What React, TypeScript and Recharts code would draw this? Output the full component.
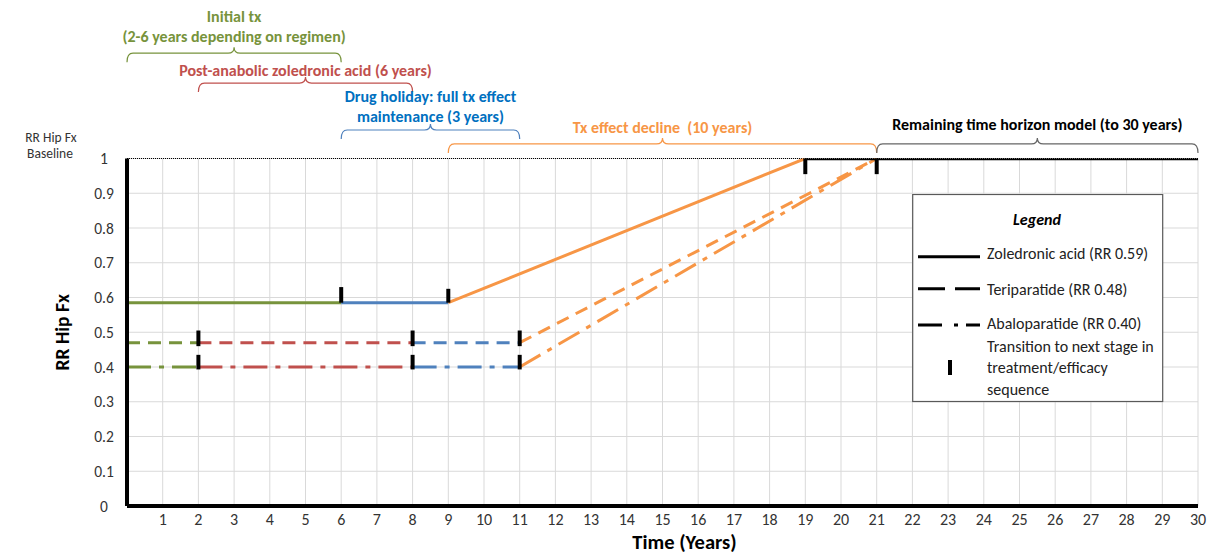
import React from 'react';
import { LineChart, Line, XAxis, YAxis, CartesianGrid, ReferenceLine, Legend } from 'recharts';

// ---------- data ----------
const xTicks = [1, 2, 3, 4, 5, 6, 7, 8, 9, 10, 11, 12, 13, 14, 15, 16, 17, 18, 19, 20, 21, 22, 23, 24, 25, 26, 27, 28, 29, 30];
const yTicks = [0, 0.1, 0.2, 0.3, 0.4, 0.5, 0.6, 0.7, 0.8, 0.9, 1];

// Zoledronic acid (RR 0.59)
const zolInitial = [{ x: 0, y: 0.585 }, { x: 6, y: 0.585 }];
const zolHoliday = [{ x: 6, y: 0.585 }, { x: 9, y: 0.585 }];
const zolDecline = [{ x: 9, y: 0.585 }, { x: 19, y: 1 }];
const remainingHorizon = [{ x: 19, y: 1 }, { x: 30, y: 1 }];

// Teriparatide (RR 0.48)
const teriInitial = [{ x: 0, y: 0.47 }, { x: 2, y: 0.47 }];
const teriPostAnabolic = [{ x: 2, y: 0.47 }, { x: 8, y: 0.47 }];
const teriHoliday = [{ x: 8, y: 0.47 }, { x: 11, y: 0.47 }];
const teriDecline = [{ x: 11, y: 0.47 }, { x: 21, y: 1 }];

// Abaloparatide (RR 0.40)
const abaloInitial = [{ x: 0, y: 0.4 }, { x: 2, y: 0.4 }];
const abaloPostAnabolic = [{ x: 2, y: 0.4 }, { x: 8, y: 0.4 }];
const abaloHoliday = [{ x: 8, y: 0.4 }, { x: 11, y: 0.4 }];
const abaloDecline = [{ x: 11, y: 0.4 }, { x: 21, y: 1 }];

// transition markers (year, from RR, to RR)
const transitions = [
  { x: 2, from: 0.46, to: 0.505 },
  { x: 2, from: 0.393, to: 0.435 },
  { x: 6, from: 0.585, to: 0.63 },
  { x: 8, from: 0.46, to: 0.505 },
  { x: 8, from: 0.393, to: 0.435 },
  { x: 9, from: 0.585, to: 0.625 },
  { x: 11, from: 0.46, to: 0.505 },
  { x: 11, from: 0.393, to: 0.435 },
  { x: 19, from: 0.955, to: 1 },
  { x: 21, from: 0.955, to: 1 },
];

// phase annotations (years spanned + text)
const phaseInitial = { from: 0, to: 6, lines: ['Initial tx', '(2-6 years depending on regimen)'] };
const phasePostAnabolic = { from: 2, to: 8, lines: ['Post-anabolic zoledronic acid (6 years)'] };
const phaseHoliday = { from: 6, to: 11, lines: ['Drug holiday: full tx effect', 'maintenance (3 years)'] };
const phaseDecline = { from: 9, to: 21, lines: ['Tx effect decline  (10 years)'] };
const phaseRemaining = { from: 21, to: 30, lines: ['Remaining time horizon model (to 30 years)'] };

const legendLabels = ['Zoledronic acid (RR 0.59)', 'Teriparatide (RR 0.48)', 'Abaloparatide (RR 0.40)'];
const legendTransition = ['Transition to next stage in', 'treatment/efficacy', 'sequence'];

// ---------- styles ----------
const FONT = "Carlito, Lato, 'Open Sans', sans-serif";
const GREEN = '#77933C';
const RED = '#C0504D';
const BLUE = '#4F81BD';
const ORANGE = '#F79646';
const DASH = '13 8';
const DASHDOT = '24 8 5 8';

const seriesStyles = [
  { data: zolInitial, color: GREEN, dash: undefined, w: 3 },
  { data: zolHoliday, color: BLUE, dash: undefined, w: 3 },
  { data: zolDecline, color: ORANGE, dash: undefined, w: 3 },
  { data: teriInitial, color: GREEN, dash: DASH, w: 3 },
  { data: teriPostAnabolic, color: RED, dash: DASH, w: 3 },
  { data: teriHoliday, color: BLUE, dash: DASH, w: 3 },
  { data: teriDecline, color: ORANGE, dash: DASH, w: 3 },
  { data: abaloInitial, color: GREEN, dash: DASHDOT, w: 3 },
  { data: abaloPostAnabolic, color: RED, dash: DASHDOT, w: 3 },
  { data: abaloHoliday, color: BLUE, dash: DASHDOT, w: 3 },
  { data: abaloDecline, color: ORANGE, dash: DASHDOT, w: 3 },
  { data: remainingHorizon, color: '#000', dash: undefined, w: 3.5 },
];

// brace layout: level (in RR units above the plot), text colour, brace colour, gap to text baseline
const braceLayouts = [
  { phase: phaseInitial, level: 1.303, text: GREEN, stroke: GREEN, gap: 11.5 },
  { phase: phasePostAnabolic, level: 1.217, text: RED, stroke: RED, gap: 7 },
  { phase: phaseHoliday, level: 1.082, text: '#0070C0', stroke: BLUE, gap: 8.5 },
  { phase: phaseDecline, level: 1.042, text: ORANGE, stroke: ORANGE, gap: 10.5 },
  { phase: phaseRemaining, level: 1.042, text: '#000', stroke: '#666', gap: 13.5 },
];

const makeBrace = (lines: string[], textColor: string, stroke: string, gap: number) => (props: any) => {
  const xa = Math.min(props.x1, props.x2);
  const xb = Math.max(props.x1, props.x2);
  const y = props.y1;
  const mid = (xa + xb) / 2;
  const d = `M${xa},${y + 9} Q${xa},${y} ${xa + 6},${y} L${mid - 6},${y} Q${mid},${y} ${mid},${y - 6} Q${mid},${y} ${mid + 6},${y} L${xb - 6},${y} Q${xb},${y} ${xb},${y + 9}`;
  return (
    <g>
      <path d={d} fill="none" stroke={stroke} strokeWidth={1.2} />
      {lines.map((t, i) => (
        <text
          key={i}
          x={mid}
          y={y - gap - (lines.length - 1 - i) * 19.5}
          textAnchor="middle"
          fill={textColor}
          fontWeight="bold"
          fontSize={16}
          fontFamily={FONT}
          style={{ whiteSpace: 'pre' }}
        >
          {t}
        </text>
      ))}
    </g>
  );
};

const YTick = (props: any) => {
  const { x, y, payload } = props;
  return (
    <text x={x - 15} y={y} dy={5.5} textAnchor="middle" fill="#333" fontSize={15.5} fontFamily={FONT}>
      {String(payload.value)}
    </text>
  );
};

const XTitle = (props: any) => {
  const vb = props.viewBox;
  return (
    <text x={vb.x + vb.width / 2 + 22} y={vb.y + 42.5} textAnchor="middle" fontWeight="bold" fontSize={20.5} fontFamily={FONT} fill="#000">
      Time (Years)
    </text>
  );
};

const BaselineLabel = (props: any) => {
  const vb = props.viewBox;
  return (
    <g fontFamily={FONT} fontSize={13.5} fill="#333">
      <text x={vb.x - 76} y={vb.y - 17} textAnchor="middle">RR Hip Fx</text>
      <text x={vb.x - 77} y={vb.y - 1} textAnchor="middle">Baseline</text>
    </g>
  );
};

const LegendBox = () => {
  const rows = [
    { y: 62.7, ty: 64.8, dash: undefined },
    { y: 94.7, ty: 100.5, dash: '27 10' },
    { y: 131, ty: 134.5, dash: '24 12 4 8' },
  ];
  return (
    <svg width={252} height={210} style={{ display: 'block' }}>
      <rect x={0.7} y={0.5} width={250} height={207} fill="#fff" stroke="#595959" strokeWidth={1.2} />
      <text x={125} y={31} textAnchor="middle" fontWeight="bold" fontStyle="italic" fontSize={16} fontFamily={FONT} fill="#000">
        Legend
      </text>
      {rows.map((r, i) => (
        <g key={i}>
          <line x1={6} x2={68} y1={r.y} y2={r.y} stroke="#000" strokeWidth={3} strokeDasharray={r.dash} />
          <text x={75} y={r.ty} fontSize={16} fontFamily={FONT} fill="#222">
            {legendLabels[i]}
          </text>
        </g>
      ))}
      <line x1={38} x2={38} y1={166} y2={181} stroke="#000" strokeWidth={4} />
      {legendTransition.map((t, i) => (
        <text key={i} x={75} y={157.5 + i * 21.8} fontSize={16} fontFamily={FONT} fill="#222">
          {t}
        </text>
      ))}
    </svg>
  );
};

export default function App() {
  return (
    <div style={{ position: 'absolute', left: 0, top: 0, width: 1212, height: 554, background: '#fff' }}>
      <LineChart width={1212} height={554} margin={{ top: 158.5, right: 14, bottom: 0, left: 0 }}>
        <CartesianGrid stroke="#d9d9d9" strokeWidth={1} />
        <XAxis
          dataKey="x"
          type="number"
          domain={[0, 30]}
          ticks={xTicks}
          interval={0}
          allowDataOverflow
          tickLine={false}
          axisLine={{ stroke: '#000', strokeWidth: 4 }}
          tick={{ fill: '#333', fontSize: 16, fontFamily: FONT }}
          height={48}
          label={<XTitle />}
        />
        <YAxis
          type="number"
          domain={[0, 1]}
          ticks={yTicks}
          interval={0}
          allowDataOverflow
          tickLine={false}
          axisLine={{ stroke: '#000', strokeWidth: 4 }}
          tick={<YTick />}
          width={127}
          label={{
            value: 'RR Hip Fx',
            angle: -90,
            position: 'insideLeft',
            offset: 62,
            style: { textAnchor: 'middle', fontWeight: 'bold', fontSize: 19.5, fontFamily: FONT, fill: '#000' },
          }}
        />
        <ReferenceLine y={1} stroke="#000" strokeWidth={1} strokeDasharray="1 1" label={<BaselineLabel />} />
        {seriesStyles.map((s, i) => (
          <Line
            key={i}
            data={s.data}
            dataKey="y"
            type="linear"
            stroke={s.color}
            strokeWidth={s.w}
            strokeDasharray={s.dash}
            dot={false}
            activeDot={false}
            legendType="none"
            isAnimationActive={false}
          />
        ))}
        {transitions.map((t, i) => (
          <ReferenceLine
            key={'t' + i}
            segment={[{ x: t.x, y: t.from }, { x: t.x, y: t.to }]}
            stroke="#000"
            strokeWidth={4}
            ifOverflow="visible"
          />
        ))}
        {braceLayouts.map((b, i) => (
          <ReferenceLine
            key={'b' + i}
            segment={[{ x: b.phase.from, y: b.level }, { x: b.phase.to, y: b.level }]}
            ifOverflow="visible"
            shape={makeBrace(b.phase.lines, b.text, b.stroke, b.gap)}
          />
        ))}
        <Legend
          content={<LegendBox />}
          layout="horizontal"
          verticalAlign="middle"
          align="center"
          wrapperStyle={{ position: 'absolute', left: 912, top: 194, width: 252, height: 210 }}
        />
      </LineChart>
    </div>
  );
}
